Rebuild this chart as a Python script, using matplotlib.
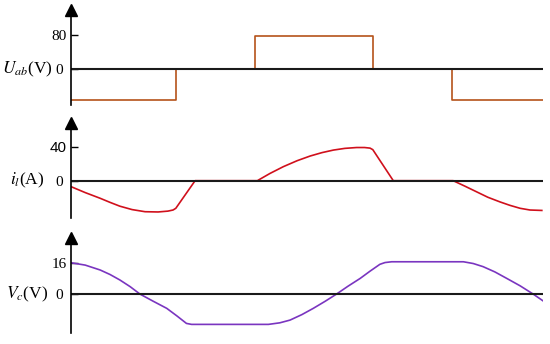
import matplotlib
matplotlib.use("Agg")
import matplotlib.pyplot as plt
from matplotlib.transforms import blended_transform_factory

plt.rcParams['font.family'] = 'serif'
plt.rcParams['font.serif'] = ['Liberation Serif', 'DejaVu Serif']
plt.rcParams['mathtext.fontset'] = 'stix'

# time axis in % of one switching period
t_end = 119.8

# Uab (V), square wave
t_u = [0, 26.6, 26.6, 46.7, 46.7, 76.6, 76.6, 96.7, 96.7, 119.8]
u_ab = [-73, -73, 0, 0, 77, 77, 0, 0, -73, -73]

# il (A)
t_i = [0, 3.6, 7.4, 9.9, 12.4, 15.5, 18.8, 22.1, 24.6, 25.9, 26.6, 31.5,
       47.3, 50.5, 53.9, 57.4, 60.7, 63.7, 66.6, 69.5, 72.5, 74.5, 75.9, 76.6,
       81.8, 97.0, 100.0, 102.9, 105.8, 108.9, 111.4, 114.0, 116.5, 119.5]
i_l = [-7, -14, -20.7, -25.5, -30, -34, -36.5, -36.8, -35.8, -34.5, -32.5, 0,
       0, 8.5, 16.5, 23.5, 29, 33, 36, 38, 39, 39, 38.3, 36.5,
       0, 0, -6.5, -13, -19.5, -25, -29, -32.5, -34.5, -35]

# Vc (V)
t_v = [0, 3.6, 7.4, 9.9, 12.4, 15.0, 17.5, 20.8, 24.3, 26.9, 29.3, 30.6,
       50.1, 53.0, 55.6, 58.6, 61.5, 64.5, 67.4, 70.3, 73.4, 75.9, 78.4, 79.7,
       81.4, 99.6, 102.1, 104.6, 107.6, 110.6, 114.0, 117.3, 119.9]
v_c = [16, 14.8, 12.3, 10.0, 7.2, 3.8, 0, -3.6, -7.3, -11.2, -15, -15.5,
       -15.5, -14.7, -13.3, -10.5, -7.3, -3.7, 0, 4, 8, 11.7, 15.2, 16.1,
       16.5, 16.5, 15.6, 14, 11.3, 8, 4.2, 0, -3.6]

panels = [
    (t_u, u_ab, '#b5531a', [0, 80], (-85, 138.8), r'$U_{ab}$(V)', 10, 105),
    (t_i, i_l, '#d0101c', [0, 40], (-43.9, 68.2), r'$i_l$(A)', 122.7, 218),
    (t_v, v_c, '#7a35c0', [0, 16], (-19.9, 28.8), r'$V_c$(V)', 237.7, 333),
]

W, H = 550, 344
fig = plt.figure(figsize=(W / 100, H / 100), dpi=100)

for k, (t, y, col, ticks, ylim, label, top, bot) in enumerate(panels):
    ax = fig.add_axes([71 / W, (H - bot) / H, 472 / W, (bot - top) / H])
    ax.plot(t, y, color=col, lw=1.2, solid_joinstyle='round')
    ax.axhline(0, color='#1a1a1a', lw=1.5)
    ax.set_xlim(0, t_end)
    ax.set_ylim(*ylim)
    for s in ['top', 'right', 'bottom']:
        ax.spines[s].set_visible(False)
    ax.spines['left'].set_linewidth(1.2)
    ax.set_xticks([])
    ax.set_yticks(ticks)
    ax.tick_params(axis='y', direction='in', length=5, width=1, pad=3,
                   labelsize=11)
    mt = ax.yaxis.get_major_ticks()
    mt[0].set_pad(6)
    if k > 0:
        mt[1].tick1line.set_color(col)
    if k == 1:
        ax.get_yticklabels()[1].set_fontfamily('Liberation Sans')
    # arrow head on the y axis
    ax.plot([0], [1], marker='^', ms=8.6, color='black', clip_on=False,
            transform=ax.transAxes)
    tr = blended_transform_factory(fig.transFigure, ax.transData)
    ax.text(27 / W, 0, label, transform=tr, ha='center', va='center',
            fontsize=12.5)

fig.savefig('out.png', dpi=100)
